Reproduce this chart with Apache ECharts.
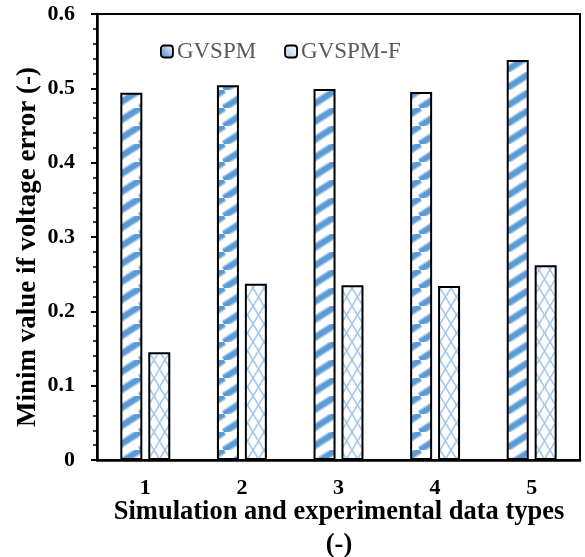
<!DOCTYPE html>
<html><head><meta charset="utf-8">
<script src="https://cdn.jsdelivr.net/npm/echarts@6/dist/echarts.min.js"></script>
<style>html,body{margin:0;padding:0;background:#fff}#c{width:585px;height:557px}</style>
</head><body><div id="c"></div>
<script>
var categories = ['1', '2', '3', '4', '5'];
var gvspm = [0.494, 0.504, 0.499, 0.495, 0.538];
var gvspmF = [0.145, 0.237, 0.235, 0.234, 0.262];
var seriesNames = ['GVSPM', 'GVSPM-F'];
var yTitle = 'Minim value if voltage error (-)';
var xTitle = 'Simulation and experimental data types\n(-)';

function stripe() {
  var w = 28, h = 18, c = document.createElement('canvas');
  c.width = w; c.height = h;
  var g = c.getContext('2d');
  g.fillStyle = '#fff'; g.fillRect(0, 0, w, h);
  g.lineCap = 'butt';
  for (var pass = 0; pass < 2; pass++) {
    g.strokeStyle = pass === 0 ? '#a9caec' : '#5b9bd5';
    g.lineWidth = pass === 0 ? 8 : 5;
    for (var k = -1; k <= 1; k++) {
      g.beginPath(); g.moveTo(k * w, h); g.lineTo(k * w + w, 0); g.stroke();
    }
  }
  return c;
}
function cross() {
  var w = 11, h = 18, c = document.createElement('canvas');
  c.width = w; c.height = h;
  var g = c.getContext('2d');
  g.fillStyle = '#fff'; g.fillRect(0, 0, w, h);
  g.strokeStyle = '#a3c8ec'; g.lineWidth = 1.6;
  g.beginPath(); g.moveTo(0, 0); g.lineTo(w, h); g.stroke();
  g.beginPath(); g.moveTo(0, h); g.lineTo(w, 0); g.stroke();
  return c;
}
var font = '"Liberation Serif", "Times New Roman", serif';
var chart = echarts.init(document.getElementById('c'));
chart.setOption({
  animation: false,
  backgroundColor: '#fff',
  grid: { left: 97, right: 5, top: 14, bottom: 97, show: true, borderColor: '#000', borderWidth: 2, containLabel: false, outerBoundsMode: 'none' },
  legend: {
    left: 155, top: 35, itemWidth: 12, itemHeight: 12, itemGap: 28,
    textStyle: { fontFamily: font, fontSize: 23, color: '#595959', padding: [0, 0, 0, -1] },
    data: [
      { name: seriesNames[0], itemStyle: { color: new echarts.graphic.LinearGradient(0, 1, 1, 0, [{ offset: 0, color: '#3d7cc9' }, { offset: 1, color: '#ffffff' }]), borderColor: '#000', borderWidth: 1.8 } },
      { name: seriesNames[1], itemStyle: { color: new echarts.graphic.LinearGradient(0, 1, 1, 0, [{ offset: 0, color: '#a9c9ee' }, { offset: 1, color: '#ffffff' }]), borderColor: '#000', borderWidth: 1.8 } }
    ]
  },
  xAxis: [{
    type: 'category', data: categories, position: 'bottom',
    axisLine: { lineStyle: { color: '#000', width: 2.5 } },
    axisTick: { alignWithLabel: true, length: 6, lineStyle: { color: '#000', width: 2 } },
    axisLabel: { color: '#000', fontFamily: font, fontWeight: 'bold', fontSize: 22, margin: 17 }
  }, {
    type: 'category', data: categories, position: 'bottom', offset: 0,
    axisLine: { show: false },
    axisTick: { inside: true, length: 5, lineStyle: { color: '#000', width: 2 } },
    axisLabel: { show: false }
  }],
  yAxis: {
    type: 'value', min: 0, max: 0.6, interval: 0.1,
    axisLine: { show: true, lineStyle: { color: '#000', width: 2.5 } },
    axisTick: { show: true, length: 6, lineStyle: { color: '#000', width: 2 } },
    minorTick: { show: true, splitNumber: 5, length: 4, lineStyle: { color: '#000', width: 1.5 } },
    splitLine: { show: false },
    axisLabel: { color: '#000', fontFamily: font, fontWeight: 'bold', fontSize: 22, margin: 22 }
  },
  graphic: [{
    type: 'text', x: 28, y: 247, rotation: Math.PI / 2,
    style: { text: yTitle, fontFamily: font, fontWeight: 'bold', fontSize: 27, fill: '#000', align: 'center', verticalAlign: 'middle' }
  }, {
    type: 'text', x: 339, y: 529,
    style: { text: xTitle, fontFamily: font, fontWeight: 'bold', fontSize: 26.5, lineHeight: 33, fill: '#000', align: 'center', verticalAlign: 'middle' }
  }],
  series: [{
    name: seriesNames[0], type: 'bar', data: gvspm, barWidth: 22, barGap: '27%',
    itemStyle: { color: { image: stripe(), repeat: 'repeat' }, borderColor: '#000', borderWidth: 2 }
  }, {
    name: seriesNames[1], type: 'bar', data: gvspmF, barWidth: 22,
    itemStyle: { color: { image: cross(), repeat: 'repeat' }, borderColor: '#000', borderWidth: 2 }
  }]
});
</script></body></html>
